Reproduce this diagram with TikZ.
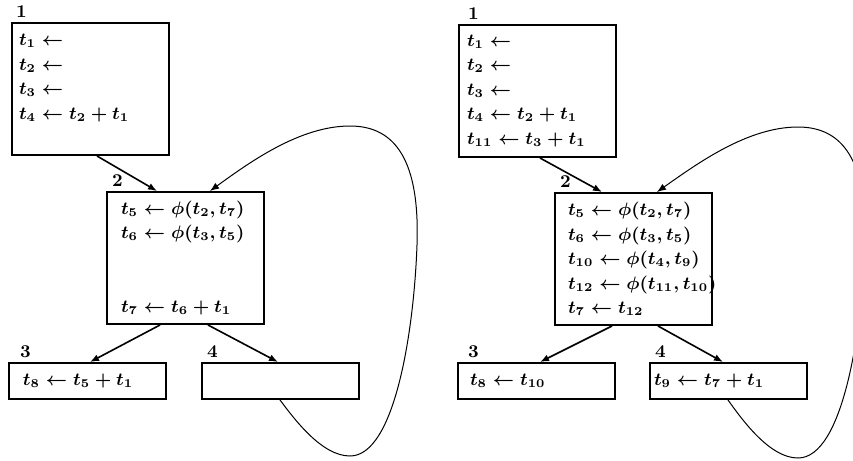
\documentclass[tikz,border=0pt]{standalone}
\usetikzlibrary{positioning,arrows.meta}

\begin{document}
\begin{tikzpicture}[x=0.5pt, y=-0.5pt,
  every node/.style={font=\fontsize{9}{12.25}\selectfont\boldmath},
  block/.style={draw, line width=1pt, anchor=north west, align=left,
    inner xsep=#1, inner ysep=0pt, text width=78.5pt-2*#1},
  num/.style={font=\bfseries\small, inner sep=1pt},
  flow/.style={-{Latex[length=4.5pt,width=3.5pt]}, line width=0.8pt},
  back/.style={-{Latex[length=4.5pt,width=3.5pt]}, line width=0.5pt}]
  \useasboundingbox (0,0) rectangle (853,461);
  \clip (0,0) rectangle (853,461);

  % before: t7 defined in block 2
  \node[block=3.5pt, minimum height=66pt] (lb1) at (11,22)
    {\mbox{$t_1 \leftarrow$}\\ \mbox{$t_2 \leftarrow$}\\ \mbox{$t_3 \leftarrow$}\\
     \mbox{$t_4 \leftarrow t_2 + t_1$}\\ \mbox{}};
  \node[block=7pt, minimum height=66pt] (lb2) at (106,191)
    {\mbox{$t_5 \leftarrow \phi(t_2, t_7)$}\\ \mbox{$t_6 \leftarrow \phi(t_3, t_5)$}\\ \mbox{}\\ \mbox{}\\
     \mbox{$t_7 \leftarrow t_6 + t_1$}};
  \node[block=7pt, minimum height=18pt] (lb3) at (8,362) {\mbox{$t_8 \leftarrow t_5 + t_1$}};
  \node[block=2pt, minimum height=18pt] (lb4) at (201,362) {\mbox{}};

  \node[num, above right=1pt and 1.4pt of lb1.north west] (ln1) {1};
  \node[num, above right=1pt and 1.9pt of lb2.north west] (ln2) {2};
  \node[num, above right=1pt and 4.9pt of lb3.north west] (ln3) {3};
  \node[num, above right=1pt and 1.9pt of lb4.north west] (ln4) {4};

  \draw[flow] ([xshift=43pt]lb1.south west) -- ([xshift=25.5pt]lb2.north west);
  \draw[flow] ([xshift=27pt]lb2.south west) -- ([xshift=41pt]lb3.north west);
  \draw[flow] ([xshift=51pt]lb2.south west) -- ([xshift=38.5pt]lb4.north west);
  \draw[back] ([xshift=39.5pt]lb4.south west) .. controls (295,420) and (322,456) .. (350,456)
    .. controls (395,456) and (414,330) .. (417,245)
    .. controls (420,160) and (395,126) .. (350,126)
    .. controls (300,126) and (250,162) .. ([xshift=52pt]lb2.north west);

  % after: t10, t12 added
  \node[block=4pt, minimum height=66pt] (rb1) at (458,24)
    {\mbox{$t_1 \leftarrow$}\\ \mbox{$t_2 \leftarrow$}\\ \mbox{$t_3 \leftarrow$}\\
     \mbox{$t_4 \leftarrow t_2 + t_1$}\\ \mbox{$t_{11} \leftarrow t_3 + t_1$}};
  \node[block=6.5pt, minimum height=66pt] (rb2) at (554,192)
    {\mbox{$t_5 \leftarrow \phi(t_2, t_7)$}\\ \mbox{$t_6 \leftarrow \phi(t_3, t_5)$}\\
     \mbox{$t_{10} \leftarrow \phi(t_4, t_9)$}\\ \mbox{$t_{12} \leftarrow \phi(t_{11}, t_{10})$}\\
     \mbox{$t_7 \leftarrow t_{12}$}};
  \node[block=6pt, minimum height=18pt] (rb3) at (457,362) {\mbox{$t_8 \leftarrow t_{10}$}};
  \node[block=2pt, minimum height=18pt] (rb4) at (649,362) {\mbox{$t_9 \leftarrow t_7 + t_1$}};

  \node[num, above right=1pt and 3.9pt of rb1.north west] (rn1) {1};
  \node[num, above right=1pt and 1.9pt of rb2.north west] (rn2) {2};
  \node[num, above right=1pt and 4.4pt of rb3.north west] (rn3) {3};
  \node[num, above right=1pt and 1.9pt of rb4.north west] (rn4) {4};

  \draw[flow] ([xshift=41pt]rb1.south west) -- ([xshift=24pt]rb2.north west);
  \draw[flow] ([xshift=29pt]rb2.south west) -- ([xshift=41.5pt]rb3.north west);
  \draw[flow] ([xshift=52pt]rb2.south west) -- ([xshift=37pt]rb4.north west);
  \draw[back] ([xshift=39.5pt]rb4.south west) .. controls (743,421) and (770,458) .. (798,458)
    .. controls (843,458) and (862,331) .. (865,246)
    .. controls (868,161) and (843,127) .. (798,127)
    .. controls (748,127) and (698,163) .. ([xshift=51.5pt]rb2.north west);
\end{tikzpicture}
\end{document}
